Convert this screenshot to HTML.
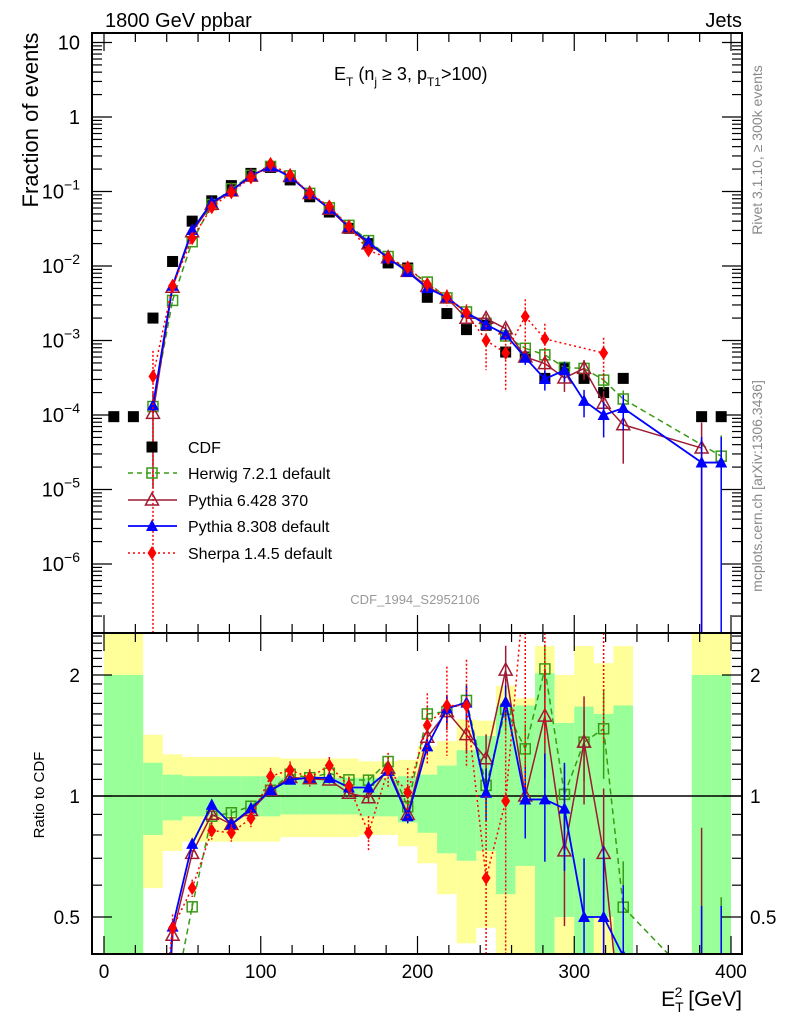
<!DOCTYPE html>
<html><head><meta charset="utf-8"><style>
html,body{margin:0;padding:0;background:#fff;width:786px;height:1024px;overflow:hidden}
svg{display:block;font-family:"Liberation Sans",Arial,sans-serif}
</style></head><body>
<svg id="chart" width="786" height="1024" viewBox="0 0 786 1024" xmlns="http://www.w3.org/2000/svg">
<defs>
<clipPath id="mainClip"><rect x="92" y="33" width="650" height="600"/></clipPath>
<clipPath id="ratioClip"><rect x="92" y="633" width="650" height="321"/></clipPath>
</defs>
<g id="bands" clip-path="url(#ratioClip)"></g>
<g id="gridlines"></g>
<g id="mainMarks" clip-path="url(#mainClip)"></g>
<g id="ratioMarks" clip-path="url(#ratioClip)"></g>
<g id="axes"></g>
<text x="105" y="27" font-size="20">1800 GeV ppbar</text>
<text x="742" y="27" font-size="20" text-anchor="end">Jets</text>
<text transform="translate(38,120) rotate(-90)" font-size="22" text-anchor="middle">Fraction of events</text>
<text x="334" y="80" font-size="18">E<tspan font-size="12" dy="6">T</tspan><tspan dy="-6"> (n</tspan><tspan font-size="12" dy="6">j</tspan><tspan dy="-6"> ≥ 3, p</tspan><tspan font-size="12" dy="6">T1</tspan><tspan dy="-6">&gt;100)</tspan></text>
<text transform="translate(762,150) rotate(-90)" font-size="14" fill="#888" text-anchor="middle">Rivet 3.1.10, ≥ 300k events</text>
<text transform="translate(762,486) rotate(-90)" font-size="14" fill="#888" text-anchor="middle">mcplots.cern.ch [arXiv:1306.3436]</text>
<text x="415" y="604" font-size="13" fill="#999" text-anchor="middle">CDF_1994_S2952106</text>
<text transform="translate(44,795) rotate(-90)" font-size="15" text-anchor="middle">Ratio to CDF</text>
<text x="742" y="1006" font-size="21" text-anchor="end">E<tspan font-size="14" dy="6" dx="0">T</tspan><tspan font-size="14" dy="-15" dx="-9">2</tspan><tspan dy="9"> [GeV]</tspan></text>
<g id="legend"></g>
</svg>
<script>
const bins = [6.25,18.75,31.25,43.75,56.25,68.75,81.25,93.75,106.25,118.75,131.25,143.75,156.25,168.75,181.25,193.75,206.25,218.75,231.25,243.75,256.25,268.75,281.25,293.75,306.25,318.75,331.25,343.75,356.25,368.75,381.25,393.75];
const cdfValues = [9.5e-5,9.5e-5,2.0e-3,1.15e-2,0.040,0.075,0.12,0.175,0.21,0.143,0.085,0.053,0.032,0.020,0.011,0.0094,0.0038,0.0023,0.0014,0.0016,0.0007,0.0006,0.00031,0.00043,0.00031,0.0002,0.00031,null,null,null,9.5e-5,9.5e-5];
const herwigValues = [null,null,1.3e-4,0.00345,0.0212,0.0668,0.109,0.165,0.217,0.162,0.0944,0.0604,0.0351,0.0219,0.0134,0.00884,0.00608,0.00373,0.00242,0.0017,0.00115,0.000786,0.000642,0.000434,0.000422,0.000294,0.000164,null,null,null,null,2.8e-5];
const pythia6Values = [null,null,1.05e-4,0.00518,0.0288,0.0675,0.102,0.161,0.217,0.159,0.0939,0.0581,0.0325,0.0198,0.0129,0.00846,0.00532,0.00373,0.00199,0.00198,0.00144,0.0006,0.00049,0.000314,0.000422,0.000144,0.000074,null,null,null,3.6e-5,null];
const pythia8Values = [null,null,1.35e-4,0.00544,0.0304,0.0713,0.102,0.163,0.217,0.157,0.0944,0.0588,0.0336,0.021,0.0127,0.00837,0.00505,0.0038,0.00239,0.00163,0.0012,0.000588,0.000304,0.0004,0.000155,0.0001,0.000124,null,null,null,2.3e-5,2.3e-5];
const sherpaValues = [null,null,3.3e-4,0.0054,0.0236,0.0615,0.0972,0.154,0.235,0.166,0.0944,0.0631,0.0339,0.0162,0.0128,0.00959,0.0057,0.00386,0.00235,0.001,0.00068,0.0021,0.00105,null,null,0.00068,null,null,null,null,null,null];
const herwigErr = [0,0,0.1,0.02,0.02,0.02,0.02,0.02,0.02,0.02,0.02,0.02,0.02,0.03,0.03,0.04,0.05,0.08,0.1,0.1,0.12,0.15,0.15,0.18,0.2,0.25,0.3,0,0,0,0,0.9];
const pythia6Err = [0,0,0.9,0.02,0.02,0.02,0.02,0.02,0.02,0.02,0.02,0.02,0.02,0.03,0.03,0.04,0.06,0.1,0.1,0.15,0.15,0.2,0.3,0.35,0.3,0.45,0.7,0,0,0,1.2,0];
const pythia8Err = [0,0,0.2,0.02,0.02,0.02,0.02,0.02,0.02,0.02,0.02,0.02,0.02,0.03,0.03,0.04,0.05,0.08,0.1,0.15,0.1,0.2,0.3,0.3,0.4,0.5,0.5,0,0,0,1.2,1.2];
const sherpaErr = [0,0,1.2,0.08,0.05,0.05,0.05,0.05,0.05,0.05,0.05,0.05,0.05,0.1,0.1,0.15,0.2,0.25,0.3,0.6,0.7,0.7,0.6,0,0,0.6,0,0,0,0,0,0];
const yellowUp = [3,3,1.42,1.27,1.25,1.25,1.25,1.25,1.25,1.24,1.24,1.24,1.24,1.22,1.22,1.23,1.33,1.37,1.55,1.54,1.88,1.75,2.36,2.0,2.36,2.14,2.36,null,null,null,3,3];
const yellowLo = [0.01,0.01,0.59,0.73,0.77,0.77,0.77,0.77,0.77,0.79,0.79,0.79,0.79,0.80,0.80,0.75,0.68,0.57,0.43,0.47,0.01,0.01,0.01,0.01,0.01,0.01,0.01,null,null,null,0.01,0.01];
const greenUp = [2,2,1.21,1.13,1.12,1.12,1.12,1.12,1.12,1.11,1.11,1.11,1.11,1.11,1.11,1.12,1.13,1.19,1.30,1.41,1.67,1.68,2.02,1.52,1.67,1.6,1.68,null,null,null,2,2];
const greenLo = [0.01,0.01,0.80,0.87,0.89,0.89,0.89,0.89,0.89,0.90,0.90,0.90,0.90,0.89,0.89,0.86,0.81,0.72,0.69,0.73,0.57,0.67,0.01,0.5,0.01,0.5,0.01,null,null,null,0.01,0.01];
const binWidth = 12.5;
const xTickLabels = ["0","100","200","300","400"];
const ratioTickLabels = ["0.5","1","2"];

const NS="http://www.w3.org/2000/svg";
const X0=92,X1=742,MT=33,MB=633,RB=954;
function px(v){return 104+v*1.5675;}
function py(v){return 117-74.5*Math.log10(v);}
function ry(r){return 796-121*Math.log2(r);}
function mk(tag,attrs,parent){const e=document.createElementNS(NS,tag);for(const k in attrs)e.setAttribute(k,attrs[k]);parent.appendChild(e);return e;}
const bandsG=document.getElementById('bands'),mainG=document.getElementById('mainMarks'),ratioG=document.getElementById('ratioMarks'),axesG=document.getElementById('axes'),legG=document.getElementById('legend');

bins.forEach((c,i)=>{
  if(yellowUp[i]==null)return;
  const x0=px(c-binWidth/2),w=px(c+binWidth/2)-x0;
  let yt=Math.max(ry(yellowUp[i]),MB),yb=Math.min(ry(yellowLo[i]),RB);
  const yr=mk('rect',{x:x0,y:yt,width:w,height:yb-yt,fill:'#ffff99'},bandsG);
  
  
  yt=Math.max(ry(greenUp[i]),MB);yb=Math.min(ry(greenLo[i]),RB);
  const gr=mk('rect',{x:x0,y:yt,width:w,height:yb-yt,fill:'#99ff99'},bandsG);
  
  
});
const one=mk('line',{x1:X0,x2:X1,y1:ry(1),y2:ry(1),stroke:'#000','stroke-width':1.5},document.getElementById('gridlines'));

function marker(g,type,x,y,color){
  let e;
  if(type==='square')e=mk('rect',{x:x-5.5,y:y-5.5,width:11,height:11,fill:'#000'},g);
  else if(type==='osquare')e=mk('rect',{x:x-5,y:y-5,width:10,height:10,fill:'#fff','fill-opacity':0,stroke:color,'stroke-width':1.5},g);
  else if(type==='otri')e=mk('polygon',{points:`${x},${y-7} ${x-6.5},${y+5} ${x+6.5},${y+5}`,fill:'none',stroke:color,'stroke-width':1.5},g);
  else if(type==='tri')e=mk('polygon',{points:`${x},${y-6.5} ${x-6},${y+5} ${x+6},${y+5}`,fill:color},g);
  else e=mk('polygon',{points:`${x},${y-7} ${x-4.5},${y} ${x},${y+7} ${x+4.5},${y}`,fill:color},g);
  return e;
}
const series=[
 {name:'herwig',vals:herwigValues,err:herwigErr,color:'#3a9a14',dash:'6,4',w:1.5,m:'osquare'},
 {name:'pythia6',vals:pythia6Values,err:pythia6Err,color:'#9e1b32',dash:'',w:1.5,m:'otri'},
 {name:'pythia8',vals:pythia8Values,err:pythia8Err,color:'#0000ff',dash:'',w:1.8,m:'tri'},
 {name:'sherpa',vals:sherpaValues,err:sherpaErr,color:'#ff0000',dash:'2,3',w:1.5,m:'diamond'}
];
bins.forEach((c,i)=>{
  if(cdfValues[i]==null)return;
  const e=marker(mainG,'square',px(c),py(cdfValues[i]));
  
  
});
// clip a segment to [yTop,yBot]
function clipSeg(a,b,yT,yB){
  let [x1,y1]=a,[x2,y2]=b;
  if((y1<yT&&y2<yT)||(y1>yB&&y2>yB))return null;
  function at(y){return x1+(x2-x1)*(y-y1)/(y2-y1);}
  let p=[x1,y1],q=[x2,y2];
  if(y1>yB)p=[at(yB),yB];else if(y1<yT)p=[at(yT),yT];
  if(y2>yB)q=[at(yB),yB];else if(y2<yT)q=[at(yT),yT];
  return [p,q];
}
function drawSeries(s,g,yf,valf,yT,yB){
  const pts=[];
  bins.forEach((c,i)=>{const v=valf(i);if(v!=null&&v>0)pts.push([px(c),yf(v),v,i]);});
  let d='';
  for(let j=0;j+1<pts.length;j++){
    const seg=clipSeg(pts[j],pts[j+1],yT,yB);
    if(seg)d+=`M${seg[0][0].toFixed(2)},${seg[0][1].toFixed(2)}L${seg[1][0].toFixed(2)},${seg[1][1].toFixed(2)}`;
  }
  const line=mk('path',{d:d||'M0,0',fill:'none',stroke:s.color,'stroke-width':s.w,'stroke-dasharray':s.dash},g);
  
  
  pts.forEach(p=>{
    const e=s.err[p[3]];
    if(e>0){
      let top=Math.max(yf(p[2]*(1+e)),yT),bot=(e>=1)?yB:Math.min(yf(p[2]*(1-e)),yB);
      if(top<bot){
        const eb=mk('line',{x1:p[0],x2:p[0],y1:top,y2:bot,stroke:s.color,'stroke-width':1.5,'stroke-dasharray':s.dash==='2,3'?'2,2':''},g);
        
        
      }
    }
    if(p[1]<yT-8||p[1]>yB+8)return;
    const m=marker(g,s.m,p[0],p[1],s.color);
    
    
  });
}
series.forEach(s=>{
  drawSeries(s,mainG,py,i=>s.vals[i],MT,MB);
  drawSeries(s,ratioG,ry,i=>(s.vals[i]!=null&&cdfValues[i]!=null)?s.vals[i]/cdfValues[i]:null,MB,RB);
});

[[MT,MB],[MB,RB]].forEach(([t,b],k)=>{
  const f=mk('rect',{x:X0,y:t,width:X1-X0,height:b-t,fill:'none',stroke:'#000','stroke-width':2},axesG);
  
  
});
for(let v=0;v<=400;v+=20){
  const x=px(v),L=(v%100===0)?18:9;
  [[MT,1],[MB,-1],[MB,1],[RB,-1]].forEach(([y,d])=>{mk('line',{x1:x,x2:x,y1:y,y2:y+d*L,stroke:'#000','stroke-width':1.2},axesG);});
}
xTickLabels.forEach((t,i)=>{
  const e=mk('text',{x:px(i*100),y:978,'font-size':19,'text-anchor':'middle'},axesG);e.textContent=t;
  
  
});
for(let d=-7;d<=1;d++){
  for(let m=1;m<10;m++){
    const v=m*Math.pow(10,d),y=py(v);
    if(y<MT-0.5||y>MB)continue;
    const L=m===1?20:10;
    mk('line',{x1:X0,x2:X0+L,y1:y,y2:y,stroke:'#000','stroke-width':1.2},axesG);
    mk('line',{x1:X1,x2:X1-L,y1:y,y2:y,stroke:'#000','stroke-width':1.2},axesG);
  }
  const y=py(Math.pow(10,d));
  if(y<MT-1||y>MB-20)continue;
  const t=mk('text',{x:80,y:y+7,'font-size':20,'text-anchor':'end'},axesG);
  
  
  if(d===0)t.textContent='1';else if(d===1)t.textContent='10';
  else{t.textContent='10';const s=mk('tspan',{'font-size':14,dy:-9},t);s.textContent='\u2212'+(-d);}
}
const rt=[0.4,0.5,0.6,0.7,0.8,0.9,1,1.1,1.2,1.3,1.4,1.5,1.6,1.7,1.8,1.9,2,2.1,2.2,2.3,2.4,2.5];
rt.forEach(r=>{const y=ry(r);if(y<MB||y>RB)return;const L=(r===0.5||r===1||r===2)?20:10;
  mk('line',{x1:X0,x2:X0+L,y1:y,y2:y,stroke:'#000','stroke-width':1.2},axesG);
  mk('line',{x1:X1,x2:X1-L,y1:y,y2:y,stroke:'#000','stroke-width':1.2},axesG);});
ratioTickLabels.forEach(t=>{
  const y=ry(parseFloat(t))+7;
  const a=mk('text',{x:80,y:y,'font-size':19,'text-anchor':'end'},axesG);a.textContent=t;
  
  
  const b=mk('text',{x:750,y:y,'font-size':19},axesG);b.textContent=t;
  
  
});
const legItems=[['CDF','square','#000','',1.5],['Herwig 7.2.1 default','osquare','#3a9a14','5,4',1.5],['Pythia 6.428 370','otri','#9e1b32','',1.5],['Pythia 8.308 default','tri','#0000ff','',1.8],['Sherpa 1.4.5 default','diamond','#ff0000','2,3',1.5]];
const legY=[447,473,500,526,553];
legItems.forEach((it,i)=>{
  const g=mk('g',{},legG);
  
  
  const y=legY[i];
  if(i>0)mk('line',{x1:128,x2:177,y1:y,y2:y,stroke:it[2],'stroke-width':it[4],'stroke-dasharray':it[3]},g);
  marker(g,it[1],152,y,it[2]);
  const t=mk('text',{x:188,y:y+6,'font-size':16},g);t.textContent=it[0];
});
</script>
</body></html>
